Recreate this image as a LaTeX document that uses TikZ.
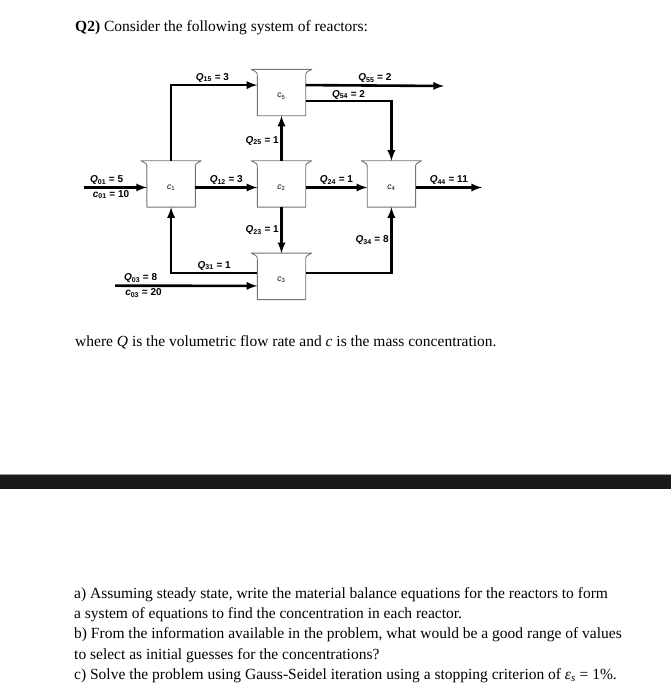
\documentclass[tikz,border=0pt]{standalone}
\usepackage{fontspec}
\setmainfont{Liberation Serif}
\newfontfamily\diagfont{Liberation Sans}
\usepackage{tikz}
\usetikzlibrary{arrows,positioning,calc}
\newcommand{\flw}[2]{\textit{Q}\textsubscript{#1} = #2}
\newcommand{\cnc}[2]{\textit{c}\textsubscript{#1} = #2}
\tikzset{
  rct/.style={rectangle,fill=white,minimum width=48pt,minimum height=39pt,inner sep=0pt,font=\diagfont\fontsize{8.5}{9}\selectfont},
  wall/.style={draw=black!55,line width=0.9pt,line join=round},
  arr/.style={->,>=latex,line width=2.6pt},
  lbl/.style={font=\diagfont\bfseries\fontsize{10}{11}\selectfont,inner sep=1.5pt},
  txt/.style={anchor=base west,inner sep=0pt,font=\fontsize{15.5}{20.3}\selectfont,align=left},
}
\begin{document}
\begin{tikzpicture}[x=1pt,y=1pt,node distance=52pt]
  \useasboundingbox (0,0) rectangle (671,700);
  \node[txt] (ttl) at (75,668) {\textbf{Q2)} Consider the following system of reactors:};
  \node[rct] (c2) at (281.5,512.5) {\textit{c}\textsubscript{2}};
  \node[rct,left=62pt of c2] (c1) {\textit{c}\textsubscript{1}};
  \node[rct,right=61.5pt of c2] (c4) {\textit{c}\textsubscript{4}};
  \node[rct,above=52pt of c2] (c5) {\textit{c}\textsubscript{5}};
  \node[rct,below=53pt of c2] (c3) {\textit{c}\textsubscript{3}};
  \foreach \r in {c1,c2,c3,c4,c5}
    \draw[wall] ([xshift=-6pt,yshift=7pt]\r.north west) .. controls ([yshift=4pt]\r.north west) .. (\r.north west)
      -- (\r.south west) -- (\r.south east) -- (\r.north east)
      .. controls ([yshift=4pt]\r.north east) .. ([xshift=6pt,yshift=7pt]\r.north east) -- cycle;
  \coordinate (in01) at (84,512.5);
  \coordinate (in03) at (115,414.3);
  \coordinate (out44) at (482,512.5);
  \coordinate (out55) at (444,614);
  \draw[arr] (in01) -- node[lbl,above,pos=0.36] {\flw{01}{5}} node[lbl,below,pos=0.43] {\cnc{01}{10}} (c1.west);
  \draw[arr] (c1.east) -- node[lbl,above] {\flw{12}{3}} (c2.west);
  \draw[arr] (c2.east) -- node[lbl,above] {\flw{24}{1}} (c4.west);
  \draw[arr] (c4.east) -- node[lbl,above] {\flw{44}{11}} (out44);
  \draw[arr] ([yshift=7pt]c1.north) |- node[lbl,above,pos=0.74] {\flw{15}{3}} ([yshift=11pt]c5.west);
  \draw[arr] ([yshift=11pt]c5.east) -- node[lbl,above,pos=0.5] {\flw{55}{2}} (out55);
  \draw[arr] ([yshift=-5pt]c5.east) -| node[lbl,above,pos=0.25,inner sep=0.5pt] {\flw{54}{2}} ([yshift=7pt]c4.north);
  \draw[arr] ([yshift=7pt]c2.north) -- node[lbl,left,pos=0.45] {\flw{25}{1}} (c5.south);
  \draw[arr] (c2.south) -- node[lbl,left,pos=0.5] {\flw{23}{1}} ([yshift=7pt]c3.north);
  \draw[arr] ([yshift=7pt]c3.west) -| node[lbl,above,pos=0.25] {\flw{31}{1}} (c1.south);
  \draw[arr] (in03) -- node[lbl,above,pos=0.18] {\flw{03}{8}} node[lbl,below,pos=0.2] {\cnc{03}{20}} ([yshift=-6pt]c3.west);
  \draw[arr] ([yshift=7pt]c3.east) -| node[lbl,left,pos=0.75] {\flw{34}{8}} (c4.south);
  \node[txt] (whr) at (75,353) {where \textit{Q} is the volumetric flow rate and \textit{c} is the mass concentration.};
  \fill[black!90] (0,211) rectangle (671,225);
  \draw[black!40,line width=0.8pt] (0,225.4) -- (671,225.4);
  \node[txt] (qst) at (74,20.5) {a) Assuming steady state, write the material balance equations for the reactors to form\\
    a system of equations to find the concentration in each reactor.\\
    b) From the information available in the problem, what would be a good range of values\\
    to select as initial guesses for the concentrations?\\
    c) Solve the problem using Gauss-Seidel iteration using a stopping criterion of {\itshape ε}\textsubscript{\itshape s} = 1\%.};
\end{tikzpicture}
\end{document}
